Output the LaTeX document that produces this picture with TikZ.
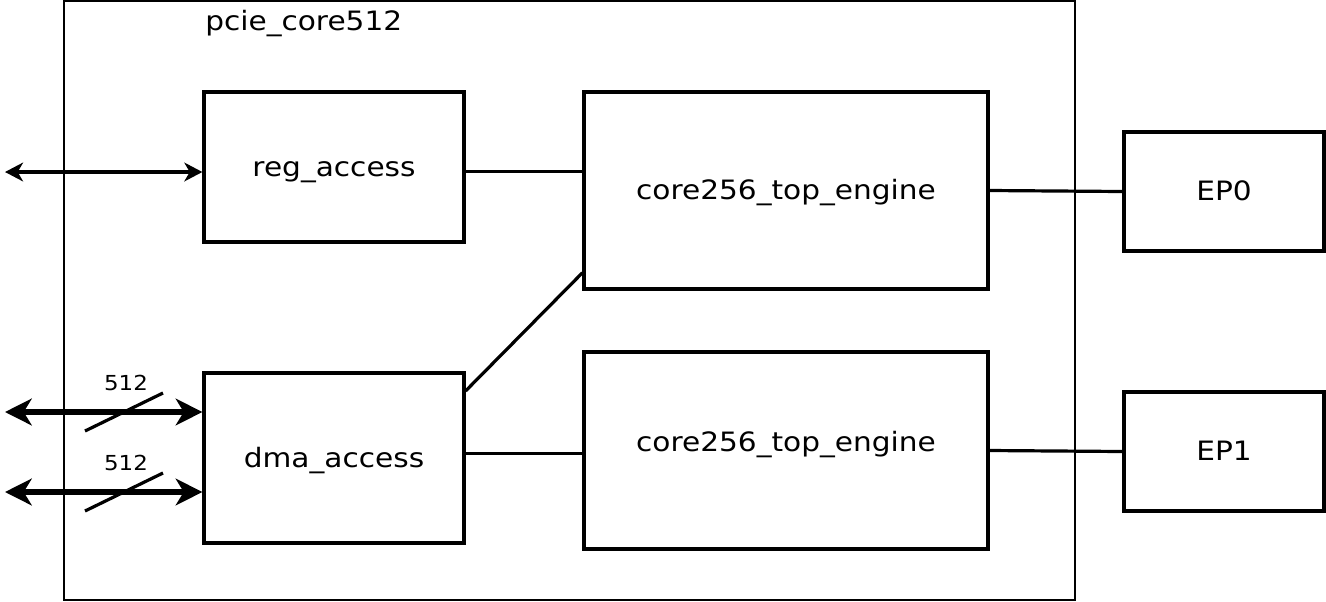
\documentclass[tikz,border=0pt]{standalone}
\usepackage{fontspec}
\setmainfont{DejaVu Sans}[FakeStretch=1.11]
\usetikzlibrary{arrows.meta}
\tikzset{
  blk/.style={
    draw=black,
    line width=2.4pt,
    align=center,
    inner sep=0pt,
    text height=16pt,
    text depth=1.8pt,
    font=\fontsize{20}{24}\selectfont
  },
  wrapper/.style={draw=black, line width=1pt},
  wire/.style={draw=black, line width=2.4pt},
  bus/.style={arrows={Stealth[length=13.5pt,width=14pt,inset=4pt]-Stealth[length=13.5pt,width=14pt,inset=4pt]}, line width=2.4pt},
  widebus/.style={arrows={Stealth[length=20pt,width=20pt,inset=6pt]-Stealth[length=20pt,width=20pt,inset=6pt]}, line width=4.5pt},
  slash/.style={draw=black, line width=2.4pt},
  buslabel/.style={font=\fontsize{15.5}{18}\selectfont}
}
\begin{document}
\begin{tikzpicture}[x=0.75pt,y=-0.75pt]
  \useasboundingbox (0,0) rectangle (1326,601);
  % outer wrapper
  \node[wrapper,minimum width=758.25pt,minimum height=449.25pt,inner sep=0pt] (core512) at (569.5,300.5) {};
  \node[anchor=base west,inner sep=0pt,font=\fontsize{20}{24}\selectfont] (title) at (205,30) {pcie\_core512};
  % blocks
  \node[blk,minimum width=195pt,minimum height=112.5pt] (reg) at (334,167) {reg\_access};
  \node[blk,minimum width=195pt,minimum height=127.5pt] (dma) at (334,458) {dma\_access};
  \node[blk,minimum width=303pt,minimum height=147.75pt] (coretop) at (786,190.5) {core256\_top\_engine};
  \node[blk,minimum width=303pt,minimum height=147.75pt,text depth=15.2pt] (corebot) at (786,450.5) {core256\_top\_engine};
  \node[blk,minimum width=150pt,minimum height=89.25pt] (ep0) at (1224,191.5) {EP0};
  \node[blk,minimum width=150pt,minimum height=89.25pt] (ep1) at (1224,451.5) {EP1};
  % internal wires
  \draw[wire] (reg.-2.2) -- (reg.-2.2 -| coretop.west);
  \draw[wire] (dma.27) -- (coretop.202);
  \draw[wire] (dma.2.6) -- (dma.2.6 -| corebot.west);
  \draw[wire] (coretop.east) -- (ep0.west);
  \draw[wire] (corebot.east) -- (ep1.west);
  % ports
  \coordinate (regport) at (5,172);
  \coordinate (dmaport1) at (5,412);
  \coordinate (dmaport2) at (5,492);
  \draw[bus] (regport) -- (regport -| reg.west);
  \draw[widebus] (dmaport1) -- (dmaport1 -| dma.west);
  \draw[widebus] (dmaport2) -- (dmaport2 -| dma.west);
  % bus widths
  \draw[slash] (85,431) -- (163,393);
  \draw[slash] (85,511) -- (163,473);
  \node[buslabel] (w1) at (126,383) {512};
  \node[buslabel] (w2) at (126,463) {512};
\end{tikzpicture}
\end{document}
